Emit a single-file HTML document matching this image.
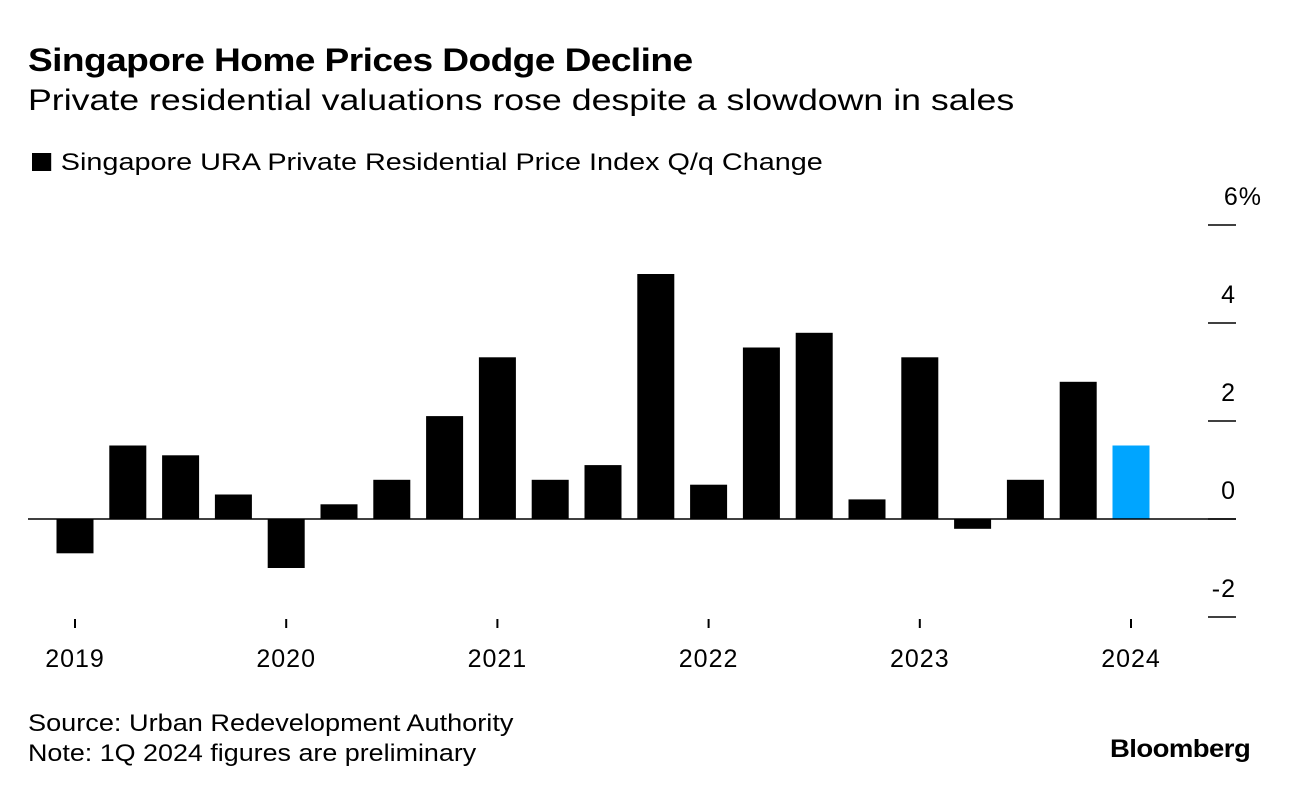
<!DOCTYPE html>
<html><head><meta charset="utf-8"><style>
body{margin:0;width:1289px;height:794px;background:#fff;font-family:"Liberation Sans",sans-serif;overflow:hidden;position:relative}
.t{position:absolute;white-space:nowrap;color:#000;transform-origin:0 0}
</style></head><body>
<div class="t" style="left:28px;top:42px;font-size:32px;font-weight:bold;letter-spacing:-0.5px;transform:scaleX(1.16)">Singapore Home Prices Dodge Decline</div>
<div class="t" style="left:28px;top:84px;font-size:30px;transform:scaleX(1.19)">Private residential valuations rose despite a slowdown in sales</div>
<div class="t" style="left:32px;top:149px;font-size:24px;transform:scaleX(1.2)"><span style="display:inline-block;width:16px;height:18px;background:#000;margin-right:8px;vertical-align:-1px"></span>Singapore URA Private Residential Price Index Q/q Change</div>
<svg id="chart" width="1289" height="700" style="position:absolute;left:0;top:0"></svg>
<div class="t" style="left:28px;top:710px;font-size:24px;transform:scaleX(1.13)">Source: Urban Redevelopment Authority</div>
<div class="t" style="left:28px;top:740px;font-size:24px;transform:scaleX(1.12)">Note: 1Q 2024 figures are preliminary</div>
<div class="t" style="left:1110px;top:735px;font-size:25px;font-weight:bold;letter-spacing:-0.5px;transform:scaleX(1.1)">Bloomberg</div>
<script>
const values=[-0.7,1.5,1.3,0.5,-1.0,0.3,0.8,2.1,3.3,0.8,1.1,5.0,0.7,3.5,3.8,0.4,3.3,-0.2,0.8,2.8,1.5];
const yTicks=[-2,0,2,4,6];
const yearLabels=["2019","2020","2021","2022","2023","2024"];
const ns="http://www.w3.org/2000/svg";
const svg=document.getElementById('chart');
const y=v=>519-v*49;
const x=i=>75+i*52.8;
function mk(tag,attrs){const e=document.createElementNS(ns,tag);for(const k in attrs)e.setAttribute(k,attrs[k]);svg.appendChild(e);return e;}
values.forEach((v,i)=>{
  const r=mk('rect',{x:x(i)-18.5,y:Math.min(y(v),y(0)),width:37,height:Math.abs(y(v)-y(0)),fill:i===values.length-1?'#00a5ff':'#000'});
  
  
});
const zl=mk('line',{x1:28,x2:1236,y1:y(0),y2:y(0),stroke:'#000','stroke-width':1.5});


yTicks.forEach(t=>{
  const l=mk('line',{x1:1208,x2:1236,y1:y(t),y2:y(t),stroke:'#000','stroke-width':1.5});
  
  
  const tx=mk('text',{x:t===6?1262:1236,y:y(t)-20,'text-anchor':'end','font-size':25,'letter-spacing':1,'font-family':'Liberation Sans'});
  tx.textContent=t===6?'6%':String(t);
  
  
});
yearLabels.forEach((lab,k)=>{
  const cx=x(k*4);
  const l=mk('line',{x1:cx,x2:cx,y1:619,y2:628,stroke:'#000','stroke-width':2});
  
  
  const tx=mk('text',{x:cx,y:667,'text-anchor':'middle','font-size':25,'letter-spacing':1,'font-family':'Liberation Sans'});
  tx.textContent=lab;
  
  
});
</script>
</body></html>
